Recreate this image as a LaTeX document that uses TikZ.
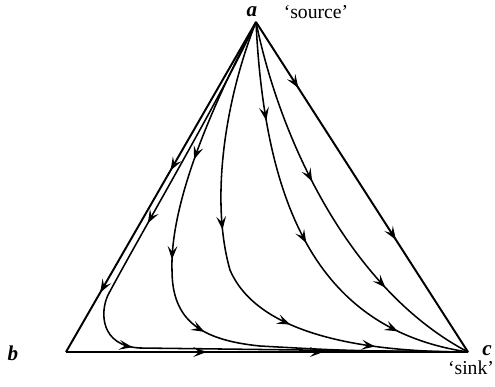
\documentclass[tikz,border=0pt]{standalone}
\usepackage{fontspec}
\setmainfont{Liberation Serif}
\usetikzlibrary{calc, arrows.meta, decorations.markings, positioning}

\tikzset{
    midarrow/.style={postaction={decorate, decoration={markings,
        mark=at position #1 with {\arrow{Stealth[length=9.5pt, width=7pt, inset=4pt]}}}}},
}

\begin{document}
\begin{tikzpicture}[x=0.025cm, y=-0.025cm, line join=round,
    edge/.style={line width=1.4pt},
    orbit/.style={line width=1.1pt},
    lbl/.style={font=\fontsize{14}{16}\selectfont, inner sep=0pt},
    vlbl/.style={font=\fontsize{15}{17}\selectfont\bfseries\itshape, inner sep=0pt}]

    \useasboundingbox (0,0) rectangle (495,387);

    % =================================================================
    % 1. VERTICES OF THE TRIANGLE
    % =================================================================
    \coordinate (A) at (256, 22);
    \coordinate (B) at (66, 352);
    \coordinate (C) at (468, 352);

    % =================================================================
    % 2. EDGES (INVARIANT SIDES)
    % =================================================================
    \draw[edge, midarrow=0.45, midarrow=0.82] (A) -- (B);
    \draw[edge, midarrow=0.35, midarrow=0.64] (B) -- (C);
    \draw[edge, midarrow=0.2, midarrow=0.66] (A) -- (C);

    % =================================================================
    % 3. TRAJECTORIES FROM SOURCE TO SINK
    % =================================================================
    % close to side ab
    \draw[orbit, midarrow=0.32, midarrow=0.53] (A) .. controls (225,90) and (140,235) .. (108,295)
        .. controls (100,312) and (100,346) .. (140,348) .. controls (300,350) .. (C);
    \draw[orbit, midarrow=0.25, midarrow=0.42, midarrow=0.56] (A) .. controls (215,100) and (170,200) .. (172,270)
        .. controls (172,320) and (200,340) .. (260,346) .. controls (350,351) .. (C);
    \draw[orbit, midarrow=0.41, midarrow=0.65, midarrow=0.82] (A) .. controls (225,100) and (210,200) .. (230,270)
        .. controls (260,340) and (380,352) .. (C);
    % close to side ac
    \draw[orbit, midarrow=0.23, midarrow=0.53, midarrow=0.83] (A) .. controls (265,210) and (320,330) .. (C);
    \draw[orbit, midarrow=0.42, midarrow=0.74] (A) .. controls (280,140) and (350,290) .. (C);

    % =================================================================
    % 4. LABELS
    % =================================================================
    \node[vlbl] (labA) at (252, 12) {a};
    \node[lbl] (source) at (316, 12) {‘source’};
    \node[vlbl] (labB) at (13, 353) {b};
    \node[vlbl] (labC) at (487, 351) {c};
    \node[lbl] (sink) at (471, 368) {‘sink’};

\end{tikzpicture}
\end{document}
